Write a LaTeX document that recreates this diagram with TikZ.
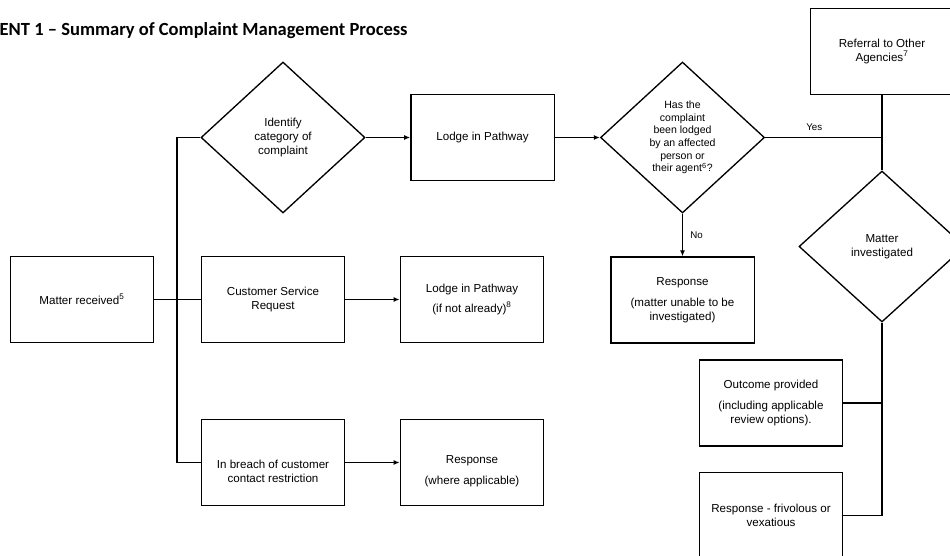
\documentclass[tikz,border=0pt]{standalone}
\usepackage{fontspec}
\setmainfont{Liberation Sans}
\newfontfamily\titlefont{Carlito}
\usetikzlibrary{arrows.meta,shapes.geometric}

\begin{document}
\begin{tikzpicture}[x=0.75pt, y=-0.75pt, line width=1pt,
  box/.style={draw, minimum width=107.5pt, minimum height=64.5pt, inner sep=2pt,
    align=center, font=\fontsize{8.7}{10.5}\selectfont},
  boxtext/.style={align=center, font=\fontsize{8.7}{10.5}\selectfont},
  decision/.style={draw, diamond, inner sep=0pt, minimum width=123pt,
    minimum height=113.25pt, align=center, font=\fontsize{8.7}{10.5}\selectfont},
  flow/.style={-{Latex[length=4.5pt,width=3.75pt]}},
  lbl/.style={font=\fontsize{7.3}{8.5}\selectfont}]
  \useasboundingbox (0,0) rectangle (950,556);
  \clip (0,0) rectangle (950,556);

  % Title (cut off on the left)
  \node[font=\titlefont\bfseries\fontsize{13.9}{16}\selectfont, anchor=base west,
    inner sep=0pt] (title) at (-1,36) {ENT 1 – Summary of Complaint Management Process};

  % Left part
  \node[box] (received) at (82,299.5) {Matter received\textsuperscript{5}};
  \node[decision] (identify) at (283,137.5) {Identify\\category of\\complaint};
  \node[box] (lodge) at (482.5,137.5) {Lodge in Pathway};
  \node[box] (csr) at (273,299.5) {Customer Service\\Request};
  \node[box] (lodgeagain) at (472,299.5) {Lodge in Pathway\\[4.9pt](if not already)\textsuperscript{8}};
  \node[box] (breach) at (273,462.5) {};
  \node[boxtext] at ([yshift=-7pt]breach.center) {In breach of customer\\contact restriction};
  \node[box] (whereapp) at (472,462.5) {};
  \node[boxtext] at ([yshift=-6.5pt]whereapp.center) {Response\\[4.9pt](where applicable)};
  \coordinate (spine) at (177,299.5);

  % Right part
  \node[decision, font=\fontsize{7.9}{9.5}\selectfont] (lodged) at (682.5,137.5)
    {Has the\\complaint\\been lodged\\by an affected\\person or\\their agent\textsuperscript{6}?};
  \node[box] (unable) at (682.5,300) {Response\\[4.9pt](matter unable to be\\investigated)};
  \node[box] (referral) at (882,51.7) {Referral to Other\\Agencies\textsuperscript{7}};
  \node[decision, minimum width=124.5pt] (investigated) at (882,246.5) {Matter\\investigated};
  \node[box] (outcome) at (771,403) {Outcome provided\\[4.9pt](including applicable\\review options).};
  \node[box] (frivolous) at (771,515.3) {Response - frivolous or\\vexatious};

  % Connectors
  \draw (received) -- (csr);
  \draw (identify.west) -| (spine) |- (breach.west);
  \draw[flow] (identify) -- (lodge);
  \draw[flow] (lodge) -- (lodged);
  \draw[flow] (csr) -- (lodgeagain);
  \draw[flow] (breach) -- (whereapp);
  \draw[flow] (lodged) -- node[lbl, right=2pt] {No} (unable);
  \draw (lodged.east) -- node[lbl, pos=0.42, above=1pt] {Yes} (lodged.east -| referral.south);
  \draw (referral) -- (investigated);
  \draw (investigated.south) |- (frivolous.east);
  \draw (outcome.east) -- (outcome.east -| investigated.south);
\end{tikzpicture}
\end{document}
